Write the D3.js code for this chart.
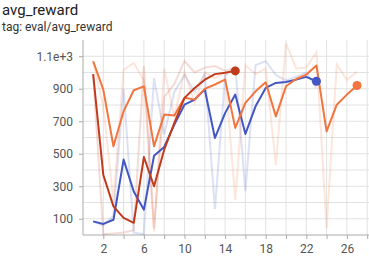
<!DOCTYPE html>
<html>
<head>
<meta charset="utf-8">
<script src="https://cdn.jsdelivr.net/npm/d3@7"></script>
<style>
  body { margin: 0; background: #fff; font-family: Roboto, sans-serif; }
  .title { font-size: 15px; fill: #212121; }
  .sub { font-size: 12px; fill: #333; }
  .axis text { font-size: 12px; fill: #555; font-family: Roboto, sans-serif; }
  .axis path, .axis line { stroke: #aaa; }
  .grid line { stroke: #e2e2e2; }
</style>
</head>
<body>
<svg id="chart" width="369" height="263"></svg>
<script>
const steps = d3.range(1, 28);

// smoothed values per run
const redSmooth = [990, 370, 176, 105, 75, 480, 300, 525, 690, 844, 905, 956, 990, 998, 1010];
const blueSmooth = [84, 68, 94, 464, 268, 156, 488, 542, 679, 802, 833, 895, 597, 750, 864, 622, 792, 905, 936, 942, 956, 973, 946];
const orangeSmooth = [1069, 895, 546, 761, 891, 915, 546, 741, 735, 844, 833, 899, 926, 956, 659, 813, 884, 940, 730, 915, 960, 987, 1043, 638, 802, 864, 920];

// raw values per run (faint lines)
const redRaw = [990, 5, 10, 15, 30, 1040, 40, 850, 930, 1070, 1000, 1030, 1040, 1010, 1030];
const blueRaw = [84, 58, 119, 900, 15, 5, 965, 620, 880, 985, 880, 990, 160, 980, 1035, 270, 1045, 1070, 985, 950, 975, 1000, 905];
const orangeRaw = [1069, 790, 210, 1015, 1060, 950, 20, 1025, 725, 1005, 815, 1000, 965, 1000, 215, 1045, 990, 1025, 430, 1180, 1025, 1030, 1125, 40, 1050, 955, 1005];

const xTicks = [2, 6, 10, 14, 18, 22, 26];
const yTicks = [100, 300, 500, 700, 900, 1100];

const runs = [
  {name: 'blue', color: '#4357c2', smooth: blueSmooth, raw: blueRaw},
  {name: 'orange', color: '#f2743e', smooth: orangeSmooth, raw: orangeRaw},
  {name: 'red', color: '#c03b1c', smooth: redSmooth, raw: redRaw}
];

const svg = d3.select('#chart');
const margin = {top: 40, right: 2, bottom: 28, left: 83};

svg.append('text').attr('class', 'title').attr('x', 2).attr('y', 15).text('avg_reward');
svg.append('text').attr('class', 'sub').attr('x', 2).attr('y', 31).text('tag: eval/avg_reward');

const x = d3.scaleLinear().domain([0, 28]).range([margin.left, margin.left + 28 * 10.15]);
const y = d3.scaleLinear().domain([0, 1200]).range([235, 40]);

// grid
svg.append('g').attr('class', 'grid')
  .selectAll('line.h')
  .data(d3.range(100, 1200, 100))
  .join('line')
    .attr('x1', x(0)).attr('x2', 369)
    .attr('y1', d => y(d)).attr('y2', d => y(d));

svg.append('g').attr('class', 'grid')
  .selectAll('line.v')
  .data(d3.range(2, 29, 2))
  .join('line')
    .attr('x1', d => x(d)).attr('x2', d => x(d))
    .attr('y1', 40).attr('y2', 235);

svg.append('g')
  .attr('class', 'axis')
  .attr('transform', `translate(0, ${y(0)})`)
  .call(d3.axisBottom(x).tickValues(d3.range(2, 29, 2)).tickSize(4).tickPadding(5)
    .tickFormat(d => xTicks.includes(d) ? d : ''))
  .call(g => g.select('.domain').attr('d', `M${x(0)},0H369`));

svg.append('g')
  .attr('class', 'axis')
  .attr('transform', `translate(${x(0)}, 0)`)
  .call(d3.axisLeft(y).tickValues(yTicks).tickSize(4).tickPadding(6)
    .tickFormat(d => d >= 1000 ? (d / 1000) + 'e+3' : d))
  .call(g => g.select('.domain').attr('d', `M0,40V235`));

const line = d3.line()
  .x((d, i) => x(steps[i]))
  .y(d => y(d));

svg.append('g')
  .selectAll('path.raw')
  .data(runs)
  .join('path')
    .attr('class', 'raw')
    .attr('fill', 'none')
    .attr('stroke', d => d.color)
    .attr('stroke-opacity', 0.18)
    .attr('stroke-width', 2)
    .attr('d', d => line(d.raw));

svg.append('g')
  .selectAll('path.smooth')
  .data(runs)
  .join('path')
    .attr('class', 'smooth')
    .attr('fill', 'none')
    .attr('stroke', d => d.color)
    .attr('stroke-width', 2)
    .attr('stroke-linejoin', 'round')
    .attr('d', d => line(d.smooth));

svg.append('g')
  .selectAll('circle')
  .data(runs)
  .join('circle')
    .attr('cx', d => x(steps[d.smooth.length - 1]))
    .attr('cy', d => y(d.smooth[d.smooth.length - 1]))
    .attr('r', 4.5)
    .attr('fill', d => d.color);
</script>
</body>
</html>
